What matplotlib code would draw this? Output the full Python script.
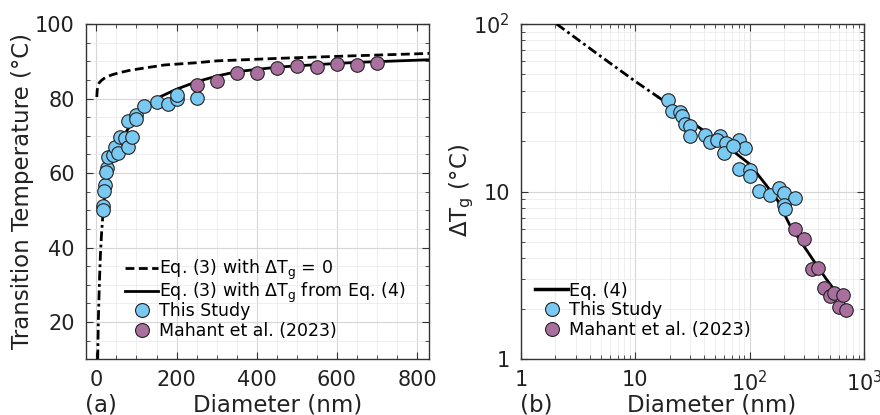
import matplotlib
matplotlib.use("Agg")
import matplotlib.pyplot as plt
from matplotlib.lines import Line2D
from matplotlib.ticker import MultipleLocator, LogLocator, FixedLocator, NullFormatter
import numpy as np

# ---- data ----
# (a) transition temperature vs diameter
study_d = [16.5, 16.5, 20.8, 18.3, 26.5, 25, 29, 41.5, 45.8, 54, 58, 70.8, 79, 90,
           79, 100, 98, 119, 150, 179, 200, 200, 250]
study_t = [51.2, 50.1, 56.8, 55.2, 61.3, 60.2, 64.4, 64.8, 67.1, 65.3, 69.7, 69.3, 67.1, 69.6,
           74.0, 75.6, 74.4, 78.0, 79.1, 78.4, 79.8, 80.9, 80.2]
mahant_d = [250, 300, 350, 400, 450, 500, 550, 600, 650, 700]
mahant_t = [83.6, 84.7, 86.8, 86.9, 88.1, 88.7, 88.5, 89.3, 89.0, 89.6]

eq3_d = [1, 2, 4, 7, 12, 18, 25, 40, 60, 85, 115, 170, 250, 300, 460, 625, 830]
eq3_t = [80.4, 82.2, 83.5, 84.2, 84.8, 85.3, 85.8, 86.4, 87.0, 87.6, 88.1, 89.0, 89.6, 90.1, 90.8, 91.4, 92.1]

eq34_dd_d = [3.2, 4, 5, 6, 8, 10, 13, 17]
eq34_dd_t = [10, 15, 21, 25, 32, 38, 44, 50]
eq34_d = [17, 20, 25, 30, 40, 50, 65, 80, 100, 130, 160, 200, 250, 300, 350, 450, 550, 650, 830]
eq34_t = [50, 53, 57, 60, 63.5, 66, 69.5, 72, 75, 78, 80.5, 82.5, 84.5, 86, 87.2, 88.4, 89.1, 89.7, 90.4]

# (b) delta Tg vs diameter
study_d2 = [19.5, 21.1, 24.7, 25.5, 27.3, 30.2, 30.2, 40.9, 45.2, 55.3, 51.7, 62.4, 60.0,
            80.0, 90.2, 71.4, 80.0, 99.8, 99.8, 119.7, 149.4, 179, 198, 251, 198, 202]
study_dtg = [35.0, 30.1, 29.8, 28.1, 25.3, 24.5, 21.6, 21.8, 19.9, 21.6, 20.4, 19.5, 17.1,
             20.4, 18.2, 18.6, 13.7, 13.4, 12.4, 10.1, 9.6, 10.5, 9.8, 9.2, 8.3, 7.9]
mahant_dtg = [5.97, 5.23, 3.46, 3.52, 2.65, 2.37, 2.48, 2.06, 2.42, 1.97]

eq4_dd_d = [2.05, 5, 10, 16]
eq4_dd_dtg = [100, 64, 45.5, 36.5]
eq4_d = [16, 18, 25, 35, 50, 72, 100, 140, 175, 225, 300, 390, 470, 550]
eq4_dtg = [36.5, 34.5, 29.5, 24.5, 20.8, 17.4, 14.6, 10.9, 8.9, 6.3, 4.7, 3.6, 3.0, 2.6]

blue = "#7ac9f2"
purple = "#a9709f"
edge = "#222222"
txt = "#222222"

plt.rcParams["font.family"] = "DejaVu Sans"
plt.rcParams["mathtext.fontset"] = "dejavusans"

fig = plt.figure(figsize=(8.8, 4.15), dpi=100)
ax1 = fig.add_axes([0.0977, 0.1342, 0.3898, 0.808])
ax2 = fig.add_axes([0.592, 0.1342, 0.3898, 0.808])


def style(ax):
    for s in ax.spines.values():
        s.set_color("#333333")
        s.set_linewidth(1.0)
    ax.tick_params(which="both", direction="in", top=True, right=True, colors="#333333",
                   labelcolor=txt, labelsize=15)
    ax.tick_params(which="major", length=5, width=0.8, pad=8)
    ax.tick_params(which="minor", length=3, width=0.6)
    ax.grid(which="major", color="#d6d6d6", linewidth=0.8)
    ax.grid(which="minor", color="#ebebeb", linewidth=0.6)
    ax.set_axisbelow(True)


# ---- panel (a) ----
ax1.plot(eq3_d, eq3_t, color="black", lw=2.0, ls=(0, (3.2, 1.6)), zorder=3)
ax1.plot(eq34_dd_d, eq34_dd_t, color="black", lw=2.0, ls=(0, (3.5, 1.3, 1, 1.3)), zorder=3)
ax1.plot(eq34_d, eq34_t, color="black", lw=2.0, zorder=3)
ax1.scatter(study_d, study_t, s=95, c=blue, edgecolors=edge, linewidths=0.8, zorder=4)
ax1.scatter(mahant_d, mahant_t, s=95, c=purple, edgecolors=edge, linewidths=0.8, zorder=4)
ax1.set_xlim(-26, 830)
ax1.set_ylim(10, 100)
ax1.xaxis.set_major_locator(MultipleLocator(200))
ax1.xaxis.set_minor_locator(MultipleLocator(50))
ax1.yaxis.set_major_locator(MultipleLocator(20))
ax1.yaxis.set_minor_locator(MultipleLocator(5))
style(ax1)

# two stacked legends so both groups keep an even row pitch
h1a = [
    Line2D([], [], color="black", lw=2.0, ls=(0, (3.2, 1.6))),
    Line2D([], [], color="black", lw=2.0),
]
l1a = ["Eq. (3) with ΔT$_\\mathrm{g}$ = 0", "Eq. (3) with ΔT$_\\mathrm{g}$ from Eq. (4)"]
h1b = [
    Line2D([], [], ls="none", marker="o", ms=10, mfc=blue, mec=edge, mew=0.8),
    Line2D([], [], ls="none", marker="o", ms=10, mfc=purple, mec=edge, mew=0.8),
]
l1b = ["This Study", "Mahant et al. (2023)"]
leg_a = ax1.legend(h1a, l1a, loc="upper left", bbox_to_anchor=(0.115, 0.302), frameon=False,
                   fontsize=12.5, handlelength=1.9, handletextpad=0.05, labelspacing=-0.1,
                   borderaxespad=0.0, borderpad=0.0)
ax1.add_artist(leg_a)
ax1.legend(h1b, l1b, loc="upper left", bbox_to_anchor=(0.115, 0.172), frameon=False,
           fontsize=12.5, handlelength=1.9, handletextpad=0.05, labelspacing=0.12,
           borderaxespad=0.0, borderpad=0.0)

# ---- panel (b) ----
ax2.set_xscale("log")
ax2.set_yscale("log")
ax2.plot(eq4_dd_d, eq4_dd_dtg, color="black", lw=2.0, ls=(0, (3.5, 1.3, 1, 1.3)), zorder=3)
ax2.plot(eq4_d, eq4_dtg, color="black", lw=2.0, zorder=3)
ax2.scatter(study_d2, study_dtg, s=95, c=blue, edgecolors=edge, linewidths=0.8, zorder=4)
ax2.scatter(mahant_d, mahant_dtg, s=95, c=purple, edgecolors=edge, linewidths=0.8, zorder=4)
ax2.set_xlim(1, 1000)
ax2.set_ylim(1, 100)
ax2.xaxis.set_major_locator(FixedLocator([1, 10, 100, 1000]))
ax2.xaxis.set_minor_locator(LogLocator(base=10, subs=np.arange(2, 10)))
ax2.xaxis.set_minor_formatter(NullFormatter())
ax2.set_xticklabels(["1", "10", "10$^2$", "10$^3$"])
ax2.yaxis.set_major_locator(FixedLocator([1, 10, 100]))
ax2.yaxis.set_minor_locator(LogLocator(base=10, subs=np.arange(2, 10)))
ax2.yaxis.set_minor_formatter(NullFormatter())
ax2.set_yticklabels(["1", "10", "10$^2$"])
style(ax2)

h2 = [
    Line2D([], [], color="black", lw=2.5),
    Line2D([], [], ls="none", marker="o", ms=10, mfc=blue, mec=edge, mew=0.8),
    Line2D([], [], ls="none", marker="o", ms=10, mfc=purple, mec=edge, mew=0.8),
]
l2 = ["Eq. (4)", "This Study", "Mahant et al. (2023)"]
ax2.legend(h2, l2, loc="upper left", bbox_to_anchor=(0.04, 0.232), frameon=False,
           fontsize=12.8, handlelength=1.9, handletextpad=0.05, labelspacing=0.1,
           borderaxespad=0.0, borderpad=0.0)

# labels
fig.text(0.026, 0.54, "Transition Temperature (°C)", rotation=90, ha="center", va="center",
         fontsize=16.5, color=txt)
fig.text(0.525, 0.54, "ΔT$_\\mathrm{g}$ (°C)", rotation=90, ha="center", va="center",
         fontsize=16.5, color=txt)
fig.text(0.315, 0.025, "Diameter (nm)", ha="center", va="center", fontsize=16.5, color=txt)
fig.text(0.809, 0.025, "Diameter (nm)", ha="center", va="center", fontsize=16.5, color=txt)
fig.text(0.097, 0.025, "(a)", ha="left", va="center", fontsize=16.5, color=txt)
fig.text(0.591, 0.025, "(b)", ha="left", va="center", fontsize=16.5, color=txt)

fig.savefig("out.png", dpi=100)
